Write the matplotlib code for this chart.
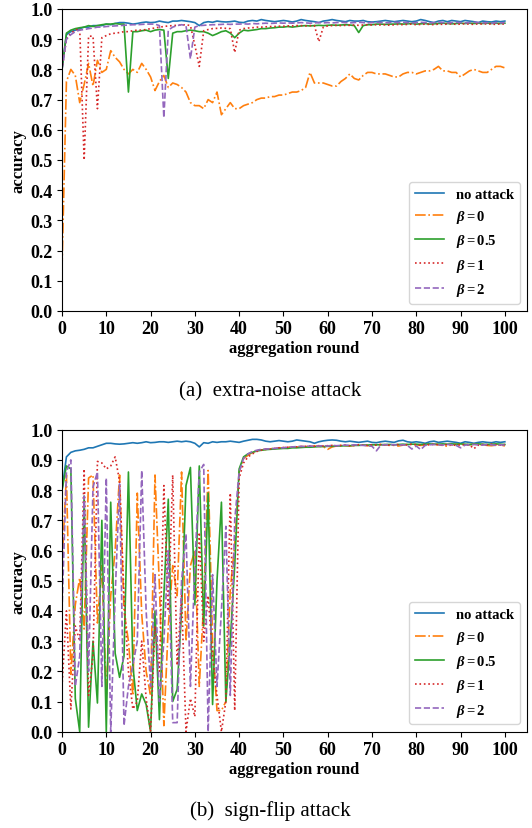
import matplotlib
matplotlib.use("Agg")
import matplotlib.pyplot as plt

plt.rcParams["font.family"] = ["Liberation Serif", "DejaVu Serif"]
plt.rcParams["font.weight"] = "bold"
plt.rcParams["axes.labelweight"] = "bold"
plt.rcParams["mathtext.fontset"] = "custom"
plt.rcParams["mathtext.rm"] = "Liberation Serif:bold"
plt.rcParams["mathtext.it"] = "Liberation Serif:italic:bold"
plt.rcParams["mathtext.bf"] = "Liberation Serif:bold"

rounds = list(range(101))
labels = ["no attack", r"$\beta = 0$", r"$\beta = 0.5$", r"$\beta = 1$", r"$\beta = 2$"]
x_ticks = list(range(0, 101, 10))
y_ticks = [i / 10 for i in range(11)]

# ---------------- (a) extra-noise attack ----------------
noise_none = [
    0.80, 0.915, 0.925, 0.93, 0.935, 0.94, 0.94, 0.945, 0.945, 0.945,
    0.95, 0.948, 0.952, 0.955, 0.955, 0.953, 0.95, 0.952, 0.955, 0.957,
    0.955, 0.956, 0.96, 0.957, 0.955, 0.96, 0.96, 0.962, 0.96, 0.958,
    0.955, 0.945, 0.955, 0.958, 0.956, 0.96, 0.958, 0.957, 0.958, 0.96,
    0.956, 0.955, 0.96, 0.962, 0.96, 0.965, 0.962, 0.96, 0.958, 0.96,
    0.962, 0.96, 0.957, 0.96, 0.965, 0.962, 0.96, 0.958, 0.955, 0.96,
    0.962, 0.965, 0.962, 0.96, 0.958, 0.962, 0.96, 0.96, 0.962, 0.958,
    0.957, 0.958, 0.96, 0.962, 0.96, 0.958, 0.96, 0.962, 0.96, 0.958,
    0.96, 0.965, 0.962, 0.958, 0.955, 0.96, 0.962, 0.958, 0.962, 0.96,
    0.958, 0.962, 0.96, 0.958, 0.955, 0.96, 0.958, 0.957, 0.96, 0.958,
    0.96,
]
noise_b0 = [
    0.14, 0.76, 0.80, 0.78, 0.69, 0.75, 0.82, 0.745, 0.83, 0.79,
    0.80, 0.862, 0.84, 0.825, 0.80, 0.785, 0.80, 0.79, 0.82, 0.80,
    0.775, 0.73, 0.76, 0.78, 0.74, 0.755, 0.75, 0.74, 0.725, 0.69,
    0.68, 0.68, 0.67, 0.70, 0.69, 0.725, 0.65, 0.67, 0.69, 0.67,
    0.67, 0.68, 0.685, 0.69, 0.70, 0.705, 0.705, 0.71, 0.71, 0.715,
    0.715, 0.72, 0.725, 0.725, 0.73, 0.74, 0.79, 0.755, 0.755, 0.755,
    0.75, 0.745, 0.745, 0.76, 0.77, 0.785, 0.77, 0.765, 0.78, 0.79,
    0.79, 0.785, 0.785, 0.785, 0.78, 0.775, 0.775, 0.785, 0.79, 0.79,
    0.785, 0.79, 0.795, 0.795, 0.80, 0.81, 0.795, 0.795, 0.79, 0.79,
    0.775, 0.785, 0.795, 0.80, 0.795, 0.79, 0.79, 0.80, 0.81, 0.81,
    0.805,
]
noise_b05 = [
    0.80, 0.92, 0.93, 0.935, 0.938, 0.94, 0.945, 0.942, 0.945, 0.948,
    0.95, 0.95, 0.952, 0.95, 0.95, 0.725, 0.925, 0.925, 0.928, 0.93,
    0.925, 0.93, 0.932, 0.93, 0.77, 0.92, 0.925, 0.925, 0.928, 0.93,
    0.928, 0.925, 0.925, 0.92, 0.912, 0.918, 0.925, 0.928, 0.92, 0.905,
    0.92, 0.93, 0.928, 0.93, 0.932, 0.935, 0.935, 0.937, 0.938, 0.94,
    0.94, 0.942, 0.94, 0.942, 0.944, 0.945, 0.944, 0.945, 0.946, 0.945,
    0.946, 0.947, 0.946, 0.947, 0.948, 0.947, 0.945, 0.922, 0.945, 0.948,
    0.948, 0.95, 0.95, 0.949, 0.95, 0.95, 0.951, 0.95, 0.951, 0.952,
    0.95, 0.951, 0.952, 0.95, 0.951, 0.952, 0.953, 0.952, 0.951, 0.952,
    0.953, 0.952, 0.953, 0.952, 0.953, 0.952, 0.953, 0.952, 0.953, 0.952,
    0.953,
]
noise_b1 = [
    0.80, 0.90, 0.92, 0.93, 0.935, 0.50, 0.91, 0.91, 0.67, 0.905,
    0.912, 0.918, 0.92, 0.922, 0.925, 0.925, 0.928, 0.93, 0.93, 0.932,
    0.935, 0.937, 0.94, 0.942, 0.944, 0.945, 0.946, 0.947, 0.948, 0.945,
    0.88, 0.81, 0.928, 0.932, 0.935, 0.936, 0.937, 0.936, 0.935, 0.856,
    0.93, 0.935, 0.937, 0.938, 0.94, 0.94, 0.941, 0.942, 0.942, 0.943,
    0.943, 0.944, 0.944, 0.945, 0.945, 0.944, 0.945, 0.945, 0.892, 0.94,
    0.944, 0.945, 0.946, 0.945, 0.946, 0.946, 0.947, 0.946, 0.947, 0.948,
    0.947, 0.948, 0.947, 0.948, 0.946, 0.948, 0.949, 0.948, 0.949, 0.95,
    0.948, 0.949, 0.95, 0.949, 0.948, 0.95, 0.949, 0.95, 0.951, 0.949,
    0.95, 0.951, 0.95, 0.949, 0.951, 0.95, 0.951, 0.95, 0.949, 0.951,
    0.95,
]
noise_b2 = [
    0.80, 0.90, 0.915, 0.925, 0.93, 0.932, 0.935, 0.937, 0.94, 0.94,
    0.942, 0.943, 0.944, 0.945, 0.946, 0.947, 0.948, 0.948, 0.949, 0.95,
    0.95, 0.95, 0.945, 0.64, 0.93, 0.94, 0.945, 0.948, 0.945, 0.835,
    0.94, 0.945, 0.946, 0.947, 0.948, 0.948, 0.949, 0.95, 0.949, 0.95,
    0.95, 0.951, 0.95, 0.952, 0.951, 0.952, 0.953, 0.952, 0.953, 0.954,
    0.953, 0.954, 0.953, 0.954, 0.955, 0.954, 0.953, 0.954, 0.955, 0.954,
    0.955, 0.954, 0.955, 0.956, 0.955, 0.954, 0.955, 0.956, 0.955, 0.954,
    0.955, 0.956, 0.955, 0.954, 0.955, 0.956, 0.955, 0.956, 0.955, 0.954,
    0.955, 0.956, 0.955, 0.954, 0.955, 0.956, 0.955, 0.954, 0.955, 0.956,
    0.955, 0.954, 0.955, 0.956, 0.955, 0.954, 0.955, 0.953, 0.955, 0.954,
    0.955,
]

# ---------------- (b) sign-flip attack ----------------
flip_none = [
    0.80, 0.91, 0.925, 0.93, 0.932, 0.935, 0.94, 0.94, 0.945, 0.95,
    0.955, 0.955, 0.953, 0.952, 0.953, 0.955, 0.957, 0.955, 0.957, 0.96,
    0.957, 0.958, 0.96, 0.96, 0.958, 0.96, 0.962, 0.96, 0.962, 0.96,
    0.955, 0.943, 0.957, 0.955, 0.96, 0.958, 0.96, 0.96, 0.962, 0.96,
    0.958, 0.962, 0.965, 0.968, 0.968, 0.966, 0.962, 0.96, 0.962, 0.964,
    0.962, 0.96, 0.962, 0.966, 0.964, 0.962, 0.96, 0.955, 0.96, 0.963,
    0.965, 0.966, 0.965, 0.962, 0.96, 0.962, 0.96, 0.958, 0.96, 0.962,
    0.958, 0.957, 0.96, 0.962, 0.96, 0.958, 0.963, 0.965, 0.96, 0.958,
    0.96, 0.958, 0.955, 0.96, 0.962, 0.958, 0.96, 0.962, 0.96, 0.958,
    0.955, 0.96, 0.958, 0.955, 0.958, 0.96, 0.958, 0.957, 0.96, 0.958,
    0.96,
]
flip_b0 = [
    0.55, 0.85, 0.19, 0.42, 0.51, 0.34, 0.84, 0.85, 0.36, 0.55,
    0.12, 0.45, 0.60, 0.85, 0.40, 0.30, 0.12, 0.79, 0.39, 0.20,
    0.12, 0.85, 0.48, 0.02, 0.35, 0.55, 0.45, 0.86, 0.30, 0.55,
    0.60, 0.15, 0.43, 0.865, 0.30, 0.07, 0.07, 0.10, 0.47, 0.62,
    0.86, 0.905, 0.915, 0.925, 0.93, 0.933, 0.935, 0.937, 0.938, 0.94,
    0.94, 0.942, 0.943, 0.942, 0.944, 0.945, 0.944, 0.946, 0.945, 0.944,
    0.935, 0.943, 0.946, 0.948, 0.947, 0.946, 0.948, 0.95, 0.949, 0.947,
    0.948, 0.95, 0.951, 0.949, 0.95, 0.948, 0.946, 0.949, 0.951, 0.952,
    0.95, 0.948, 0.95, 0.951, 0.952, 0.95, 0.948, 0.945, 0.95, 0.952,
    0.951, 0.949, 0.95, 0.952, 0.951, 0.95, 0.948, 0.947, 0.949, 0.95,
    0.946,
]
flip_b05 = [
    0.80, 0.88, 0.87, 0.11, 0.0, 0.78, 0.015, 0.30, 0.095, 0.70,
    0.0, 0.76, 0.26, 0.18, 0.25, 0.86, 0.22, 0.07, 0.125, 0.09,
    0.0, 0.40, 0.04, 0.45, 0.77, 0.10, 0.14, 0.40, 0.815, 0.875,
    0.42, 0.88, 0.35, 0.79, 0.09, 0.50, 0.76, 0.10, 0.30, 0.55,
    0.87, 0.91, 0.92, 0.925, 0.93, 0.932, 0.934, 0.935, 0.936, 0.937,
    0.938, 0.938, 0.94, 0.94, 0.941, 0.942, 0.942, 0.943, 0.944, 0.944,
    0.945, 0.945, 0.946, 0.946, 0.947, 0.947, 0.948, 0.948, 0.949, 0.949,
    0.95, 0.95, 0.95, 0.951, 0.951, 0.95, 0.951, 0.952, 0.951, 0.952,
    0.952, 0.951, 0.952, 0.953, 0.952, 0.952, 0.953, 0.952, 0.953, 0.952,
    0.953, 0.952, 0.951, 0.952, 0.953, 0.952, 0.951, 0.952, 0.953, 0.952,
    0.951,
]
flip_b1 = [
    0.15, 0.40, 0.075, 0.35, 0.30, 0.87, 0.12, 0.25, 0.895, 0.89,
    0.87, 0.88, 0.91, 0.83, 0.45, 0.20, 0.075, 0.10, 0.30, 0.11,
    0.0, 0.35, 0.20, 0.815, 0.40, 0.85, 0.22, 0.45, 0.0, 0.11,
    0.05, 0.66, 0.30, 0.45, 0.25, 0.12, 0.0, 0.10, 0.79, 0.07,
    0.84, 0.89, 0.91, 0.92, 0.928, 0.932, 0.935, 0.936, 0.938, 0.94,
    0.941, 0.942, 0.943, 0.943, 0.944, 0.945, 0.946, 0.945, 0.947, 0.946,
    0.947, 0.948, 0.946, 0.948, 0.949, 0.947, 0.948, 0.95, 0.949, 0.948,
    0.95, 0.949, 0.951, 0.95, 0.948, 0.95, 0.951, 0.949, 0.95, 0.952,
    0.95, 0.949, 0.951, 0.95, 0.952, 0.95, 0.949, 0.951, 0.95, 0.948,
    0.95, 0.951, 0.95, 0.937, 0.949, 0.951, 0.95, 0.952, 0.95, 0.949,
    0.951,
]
flip_b2 = [
    0.40, 0.86, 0.90, 0.15, 0.25, 0.78, 0.20, 0.81, 0.86, 0.15,
    0.84, 0.0, 0.45, 0.82, 0.02, 0.15, 0.22, 0.30, 0.865, 0.40,
    0.15, 0.52, 0.10, 0.30, 0.60, 0.03, 0.03, 0.50, 0.655, 0.15,
    0.55, 0.86, 0.885, 0.0, 0.52, 0.15, 0.40, 0.68, 0.12, 0.70,
    0.86, 0.905, 0.92, 0.928, 0.932, 0.935, 0.936, 0.937, 0.938, 0.94,
    0.94, 0.942, 0.943, 0.944, 0.945, 0.944, 0.946, 0.945, 0.946, 0.947,
    0.946, 0.948, 0.947, 0.948, 0.949, 0.948, 0.95, 0.949, 0.948, 0.947,
    0.945, 0.93, 0.949, 0.95, 0.951, 0.95, 0.949, 0.95, 0.948, 0.936,
    0.946, 0.934, 0.948, 0.95, 0.951, 0.95, 0.949, 0.951, 0.95, 0.948,
    0.94, 0.949, 0.95, 0.951, 0.95, 0.949, 0.951, 0.95, 0.948, 0.95,
    0.949,
]

colors = ["tab:blue", "tab:orange", "tab:green", "tab:red", "tab:purple"]
styles = ["-", "-.", "-", ":", "--"]

fig = plt.figure(figsize=(5.32, 8.29), dpi=100)
W, H = 532.0, 829.0
ax_a = fig.add_axes([62 / W, 1 - 312 / H, 465 / W, 302 / H])
ax_b = fig.add_axes([62 / W, 1 - 732.7 / H, 465 / W, 302 / H])

panels = [
    (ax_a, [noise_none, noise_b0, noise_b05, noise_b1, noise_b2]),
    (ax_b, [flip_none, flip_b0, flip_b05, flip_b1, flip_b2]),
]

for ax, curves in panels:
    for ys, lab, c, ls in zip(curves, labels, colors, styles):
        ax.plot(rounds, ys, color=c, linestyle=ls, linewidth=1.2, label=lab)
    ax.set_xlim(0, 105)
    ax.set_ylim(0, 1.0)
    ax.set_xticks(x_ticks)
    ax.set_yticks(y_ticks)
    ax.set_yticklabels([f"{v:.1f}" for v in y_ticks])
    ax.tick_params(labelsize=13, pad=3)
    for t in ax.get_xticklabels() + ax.get_yticklabels():
        t.set_fontweight("bold")
    ax.set_xlabel("aggregation round", fontsize=12, fontweight="bold", labelpad=2)
    ax.set_ylabel("accuracy", fontsize=12, fontweight="bold", labelpad=3)
    ax.legend(loc="lower right", prop={"weight": "bold", "size": 10.5})

fig.text(270 / W, 1 - 392 / H, "(a)  extra-noise attack", ha="center", va="center",
         fontsize=15, fontweight="normal")
fig.text(270 / W, 1 - 811 / H, "(b)  sign-flip attack", ha="center", va="center",
         fontsize=15, fontweight="normal")

fig.savefig("out.png", dpi=100)
